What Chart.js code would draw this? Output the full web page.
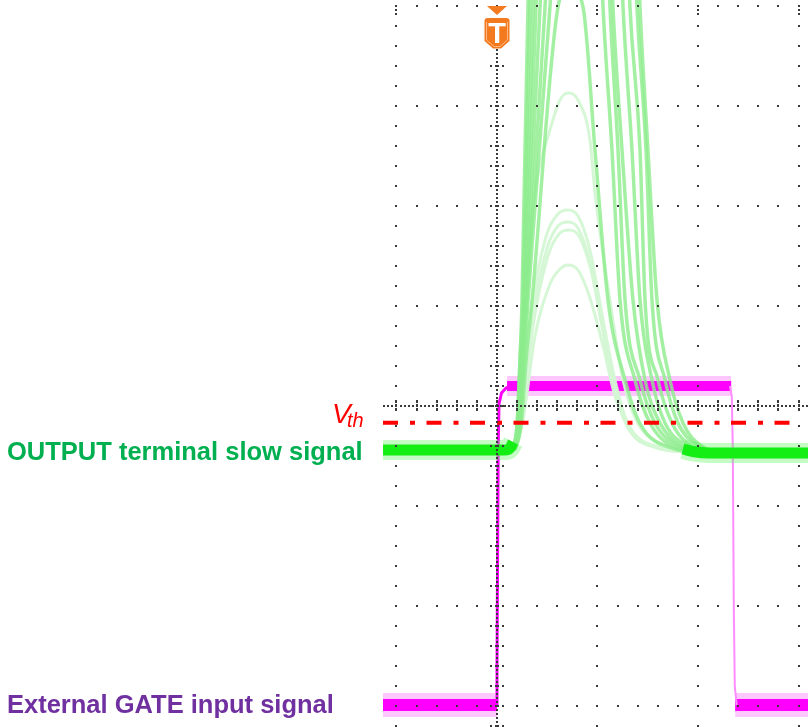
<!DOCTYPE html>
<html><head><meta charset="utf-8">
<script src="https://cdn.jsdelivr.net/npm/chart.js@4.4.1/dist/chart.umd.min.js"></script>
<style>
html,body{margin:0;padding:0;background:#fff;}
#wrap{position:relative;width:808px;height:727px;overflow:hidden;background:#fff;}
canvas{position:absolute;left:0;top:0;}
.lbl{position:absolute;white-space:nowrap;font-family:'Liberation Sans',Arial,sans-serif;font-weight:bold;font-size:25.5px;line-height:1;}
.vth{position:absolute;white-space:nowrap;font-family:'Liberation Sans',Arial,sans-serif;font-style:italic;line-height:1;color:#ff0000;}
</style></head><body>
<div id="wrap">
<canvas id="c" width="808" height="727"></canvas>
<div class="lbl" style="left:7px;top:438.5px;color:#00b050">OUTPUT terminal slow signal</div>
<div class="lbl" style="left:7px;top:692px;color:#7030a0">External GATE input signal</div>
<span class="vth" style="left:332px;top:399.6px;font-size:28px">V</span><span class="vth" style="left:347px;top:409.8px;font-size:20px">th</span>
</div>
<script>
// ---- Data (x in horizontal divisions from trigger, y in vertical divisions from centre) ----
const xRange = [-1.1343, 3.0945];
const yRange = [-3.21, 4.06];
const xMajorTicks = [-1, 0, 1, 2, 3];
const yMajorTicks = [-3, -2, -1, 0, 1, 2, 3, 4];

const vthLevel = -0.167;
const vthSpan = [-1.1343, 2.965];

// External GATE input (magenta)
const gateLowLeft  = [[-1.1343,-2.99],[0.0,-2.99]];
const gateRise     = [[-0.005,-2.99],[0.0,-2.6],[0.006,-1.5],[0.012,-0.4],[0.02,0.02],[0.045,0.13],[0.09,0.18],[0.14,0.20]];
const gateHigh     = [[0.10,0.20],[2.33,0.20]];
const gateFall     = [[2.318,0.20],[2.336,0.10],[2.346,-0.4],[2.356,-2.0],[2.366,-2.8],[2.385,-2.99]];
const gateLowRight = [[2.37,-2.99],[3.0945,-2.99]];

// OUTPUT terminal slow signal (green) – baseline segments
const outBaseLeft  = [[-1.1343,-0.44],[0.08,-0.44],[0.13,-0.42],[0.16,-0.36]];
const outBaseRight = [[1.85,-0.43],[1.95,-0.455],[2.10,-0.47],[3.0945,-0.47]];

// Large pulses (peaks above the screen)
const pulse1 = [[0.149,-0.44],[0.199,-0.20],[0.229,0.46],[0.249,1.06],[0.308,3.99],[0.35,4.6],[1.40,4.6],[1.423,3.99],[1.502,2.56],[1.592,1.06],[1.721,0.26],[1.851,-0.17],[2.020,-0.39],[2.219,-0.46]];
const pulse2 = [[0.149,-0.44],[0.199,-0.20],[0.229,0.46],[0.259,1.06],[0.328,3.99],[0.37,4.6],[1.37,4.6],[1.393,3.99],[1.483,2.56],[1.542,1.06],[1.672,0.26],[1.801,-0.17],[1.990,-0.39],[2.20,-0.46]];
const pulse3 = [[0.159,-0.44],[0.209,-0.20],[0.239,0.46],[0.269,1.06],[0.358,3.99],[0.40,4.6],[1.30,4.6],[1.323,3.99],[1.423,2.56],[1.473,1.06],[1.602,0.26],[1.741,-0.17],[1.950,-0.41],[2.15,-0.46]];
const pulse4 = [[0.159,-0.44],[0.209,-0.20],[0.239,0.46],[0.279,1.06],[0.388,3.99],[0.43,4.6],[1.23,4.6],[1.254,3.99],[1.343,2.56],[1.423,1.06],[1.542,0.26],[1.672,-0.17],[1.920,-0.41],[2.12,-0.46]];
const pulse5 = [[0.169,-0.44],[0.219,-0.20],[0.249,0.46],[0.289,1.06],[0.428,3.99],[0.47,4.6],[1.13,4.6],[1.154,3.99],[1.244,2.56],[1.353,1.06],[1.473,0.26],[1.622,-0.17],[1.881,-0.42],[2.10,-0.46]];
const pulse6 = [[0.169,-0.44],[0.219,-0.20],[0.259,0.46],[0.299,1.06],[0.478,3.99],[0.52,4.6],[1.10,4.6],[1.124,3.99],[1.204,2.56],[1.274,1.06],[1.423,0.26],[1.572,-0.17],[1.851,-0.42],[2.08,-0.46]];
const pulse7 = [[0.179,-0.44],[0.229,-0.20],[0.269,0.46],[0.309,1.06],[0.527,3.99],[0.57,4.6],[1.03,4.6],[1.055,3.99],[1.144,2.56],[1.224,1.06],[1.373,0.26],[1.522,-0.17],[1.821,-0.43],[2.05,-0.46]];
const pulse8 = [[0.179,-0.44],[0.239,-0.20],[0.289,0.46],[0.349,1.06],[0.607,3.99],[0.72,4.2],[0.856,3.99],[0.975,2.56],[1.104,1.06],[1.274,0.26],[1.42,-0.17],[1.771,-0.43],[2.02,-0.46]];

// Smaller pulses (peaks visible)
const small1 = [[0.149,-0.44],[0.209,-0.14],[0.279,1.06],[0.378,2.13],[0.527,2.76],[0.627,3.06],[0.706,3.13],[0.806,3.06],[0.925,2.66],[0.975,2.13],[1.124,1.06],[1.254,0.26],[1.40,-0.17],[1.70,-0.40],[2.00,-0.46]];
const small2 = [[0.159,-0.44],[0.229,-0.14],[0.329,0.86],[0.478,1.66],[0.607,1.92],[0.706,1.96],[0.806,1.90],[0.925,1.56],[1.055,0.86],[1.174,0.26],[1.30,-0.17],[1.60,-0.41],[1.95,-0.46]];
const small3 = [[0.159,-0.44],[0.239,-0.14],[0.349,0.86],[0.498,1.58],[0.607,1.80],[0.706,1.84],[0.806,1.78],[0.925,1.44],[1.035,0.86],[1.154,0.26],[1.28,-0.17],[1.58,-0.41],[1.92,-0.46]];
const small4 = [[0.169,-0.44],[0.249,-0.14],[0.359,0.80],[0.507,1.50],[0.617,1.72],[0.716,1.76],[0.816,1.70],[0.935,1.36],[1.045,0.80],[1.164,0.22],[1.29,-0.19],[1.60,-0.42],[1.93,-0.46]];
const small5 = [[0.169,-0.44],[0.259,-0.14],[0.378,0.70],[0.527,1.22],[0.627,1.37],[0.706,1.41],[0.806,1.36],[0.925,1.08],[1.055,0.60],[1.174,0.10],[1.32,-0.22],[1.60,-0.42],[1.90,-0.46]];

const largePulses = [pulse1,pulse2,pulse3,pulse4,pulse5,pulse6,pulse7,pulse8];
const smallPulses = [small1,small2,small3,small4,small5];

// ---- Build chart ----
const xy = a => a.map(([x,y]) => ({x, y}));
const base = {pointRadius:0, fill:false, clip:0, borderCapStyle:'butt'};
const datasets = [];

datasets.push({...base, data: xy([[vthSpan[0],vthLevel],[vthSpan[1],vthLevel]]), borderColor:'#ff0000', borderWidth:4, borderDash:[15,12,5,11.5], order:0});

[outBaseLeft,outBaseRight].forEach(d=>{
  datasets.push({...base, data: xy(d), borderColor:'#14ee14', borderWidth:11, cubicInterpolationMode:'monotone', order:1});
  datasets.push({...base, data: xy(d), borderColor:'rgba(90,245,90,0.35)', borderWidth:20, cubicInterpolationMode:'monotone', order:2});
});

largePulses.forEach(d=>datasets.push({...base, data: xy(d), borderColor:'rgba(140,236,140,0.8)', borderWidth:3.5, cubicInterpolationMode:'monotone', order:3}));
smallPulses.forEach(d=>datasets.push({...base, data: xy(d), borderColor:'rgba(212,247,212,0.95)', borderWidth:3, cubicInterpolationMode:'monotone', order:4}));

datasets.push({...base, data: xy(gateRise), borderColor:'#ff00ff', borderWidth:3, order:5});
datasets.push({...base, data: xy(gateFall), borderColor:'#ff8cff', borderWidth:2, order:5});
[gateLowLeft, gateLowRight].forEach(d=>{
  datasets.push({...base, data: xy(d), borderColor:'#ff00ff', borderWidth:12, order:6});
  datasets.push({...base, data: xy(d), borderColor:'rgba(255,70,255,0.3)', borderWidth:24, order:7});
});
datasets.push({...base, data: xy(gateHigh), borderColor:'#ff00ff', borderWidth:10, order:6});
datasets.push({...base, data: xy(gateHigh), borderColor:'rgba(255,70,255,0.3)', borderWidth:20, order:7});

const graticule = {
  id:'graticule',
  afterDatasetsDraw(chart){
    const {ctx, chartArea:a} = chart;
    const xs = chart.scales.x, ys = chart.scales.y;
    const X = v => xs.getPixelForValue(v), Y = v => ys.getPixelForValue(v);
    ctx.save();
    ctx.beginPath(); ctx.rect(a.left, a.top, a.right-a.left, a.bottom-a.top); ctx.clip();
    ctx.fillStyle = '#3a3a3a';
    const dot = (px,py,w=2,h=2) => ctx.fillRect(Math.round(px-w/2), Math.round(py-h/2), w, h);
    const cx = X(0), cy = Y(0);
    for (const gx of xMajorTicks){
      if (gx === 0) continue;
      for (let m=-17; m<=21; m++) dot(X(gx), Y(m/5));
      dot(X(gx), Y(4)+4); dot(X(gx), Y(4)+8);
    }
    for (const gy of yMajorTicks){
      if (gy === 0) continue;
      for (let m=-6; m<=16; m++) dot(X(m/5), Y(gy));
    }
    // centre horizontal line: fine dots and ticks
    for (let m=-30; m<=80; m++) dot(X(m/25), cy);
    for (let m=-6; m<=16; m++){ const px = X(m/5); dot(px, cy-4, 2, 3); dot(px, cy, 2, 3); dot(px, cy+4, 2, 3); }
    // centre vertical (trigger) line: fine dots and ticks
    for (let m=-85; m<=101; m++){ const py = Y(m/25); if (py < 49) continue; dot(cx, py); }
    for (let m=-17; m<=21; m++){ const py = Y(m/5); if (py < 49) continue; dot(cx-6, py); dot(cx, py, 4, 2); dot(cx+6, py); }
    // trigger marker
    ctx.fillStyle = '#f47a20';
    ctx.beginPath(); ctx.moveTo(cx-10, Y(4)); ctx.lineTo(cx+10, Y(4)); ctx.lineTo(cx, Y(4)+9); ctx.closePath(); ctx.fill();
    const t = 18, b = 48.5, r = 3;
    ctx.beginPath();
    ctx.moveTo(cx-12.5, t+r);
    ctx.quadraticCurveTo(cx-12.5, t, cx-12.5+r, t);
    ctx.lineTo(cx+12.5-r, t);
    ctx.quadraticCurveTo(cx+12.5, t, cx+12.5, t+r);
    ctx.lineTo(cx+12.5, 41);
    ctx.lineTo(cx+4, b); ctx.lineTo(cx-4, b);
    ctx.lineTo(cx-12.5, 41);
    ctx.closePath(); ctx.fill();
    ctx.strokeStyle = 'rgba(255,190,140,0.9)'; ctx.lineWidth = 1;
    ctx.beginPath();
    ctx.moveTo(cx-10.5, 22); ctx.lineTo(cx-10.5, 40); ctx.lineTo(cx-3, 46.5); ctx.lineTo(cx+3, 46.5); ctx.lineTo(cx+10.5, 40); ctx.lineTo(cx+10.5, 22); ctx.stroke();
    ctx.fillStyle = '#ffffff';
    ctx.font = 'bold 29px "Liberation Sans", Arial, sans-serif';
    ctx.textAlign = 'center'; ctx.textBaseline = 'alphabetic';
    ctx.fillText('T', cx, 43);
    ctx.restore();
  }
};

new Chart(document.getElementById('c'), {
  type:'line',
  data:{datasets},
  options:{
    responsive:false, animation:false, events:[],
    layout:{padding:{left:383, right:0, top:0, bottom:0}},
    scales:{
      x:{type:'linear', min:xRange[0], max:xRange[1], display:false},
      y:{type:'linear', min:yRange[0], max:yRange[1], display:false}
    },
    plugins:{legend:{display:false}, tooltip:{enabled:false}, title:{display:false}}
  },
  plugins:[graticule]
});
</script>
</body></html>
